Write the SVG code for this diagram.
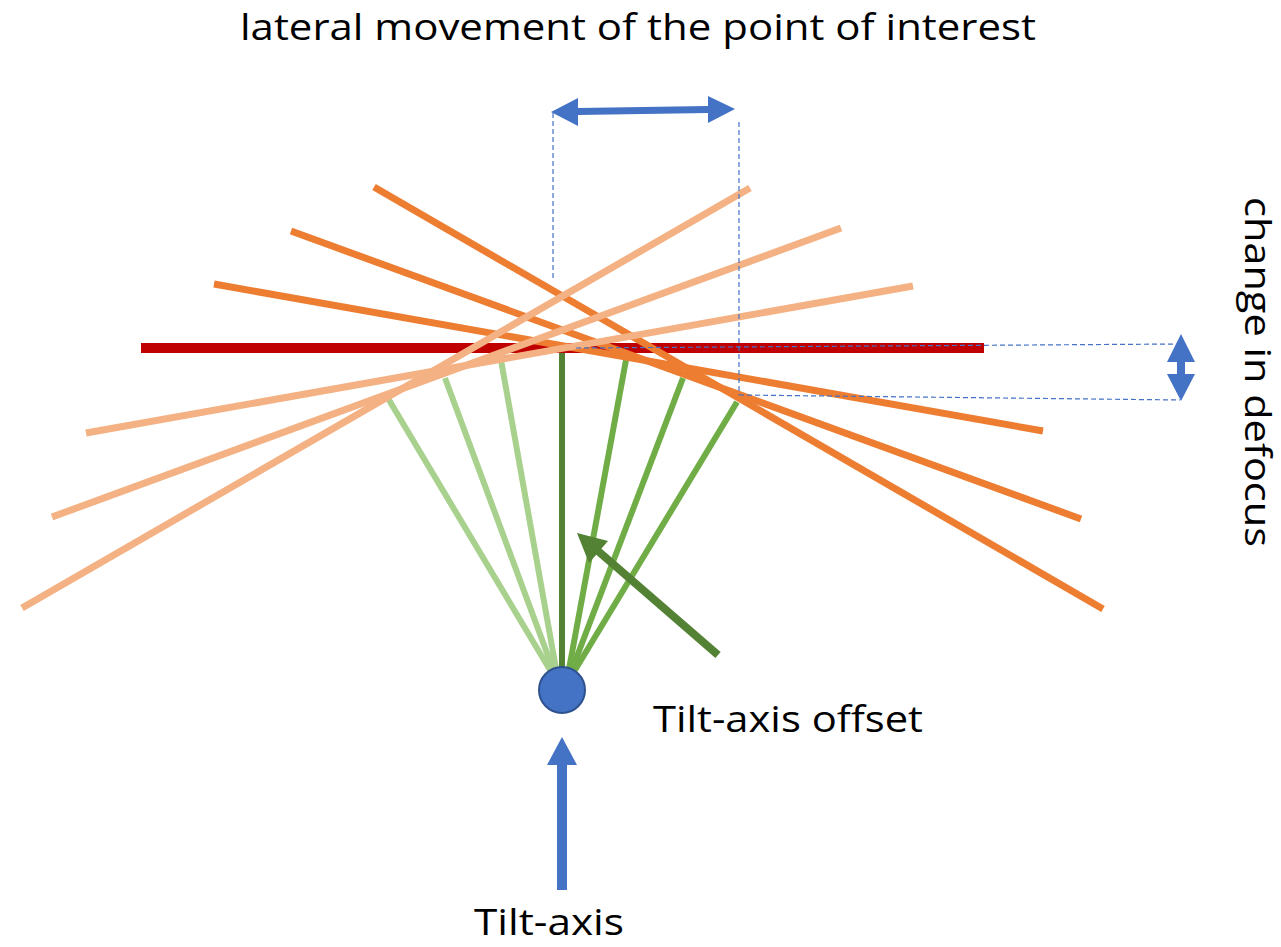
<svg xmlns="http://www.w3.org/2000/svg" width="1281" height="947" viewBox="0 0 1281 947">
<defs>
<style>
.t{font-family:"Open Sans","Liberation Sans",sans-serif;font-size:36px;fill:#000}
.lg{stroke:#A9D18E;stroke-width:6;fill:none}
.mg{stroke:#70AD47;stroke-width:6;fill:none}
.dg{stroke:#548235;stroke-width:6;fill:none}
.or{stroke:#ED7D31;stroke-width:7;fill:none}
.lo{stroke:#F4B183;stroke-width:7;fill:none}
.dash{stroke:#4472C4;stroke-width:1.2;stroke-dasharray:5,3;fill:none}
.blue{fill:#4472C4}
</style>
</defs>
<rect width="1281" height="947" fill="#fff"/>
<g id="connectors">
<g id="green-fan">
<line class="lg" x1="556" y1="680" x2="389" y2="400"/>
<line class="lg" x1="557" y1="680" x2="445" y2="378"/>
<line class="lg" x1="558" y1="680" x2="501" y2="360"/>
<line class="mg" x1="567" y1="680" x2="626" y2="360"/>
<line class="mg" x1="568" y1="680" x2="683" y2="378"/>
<line class="mg" x1="569" y1="680" x2="737" y2="402"/>
<line class="dg" x1="562" y1="680" x2="562" y2="352"/>
</g>
<line id="red-plane" x1="141" y1="348" x2="984" y2="348" stroke="#C00000" stroke-width="10"/>
<g id="orange-dark">
<line class="or" x1="374" y1="187" x2="1103" y2="609"/>
<line class="or" x1="291" y1="231" x2="1081" y2="519"/>
<line class="or" x1="214" y1="284" x2="1043" y2="431"/>
</g>
<g id="orange-light">
<line class="lo" x1="22" y1="608" x2="750" y2="188"/>
<line class="lo" x1="52" y1="517" x2="841" y2="228"/>
<line class="lo" x1="86" y1="433" x2="913" y2="286"/>
</g>
<g id="guides">
<line class="dash" x1="553" y1="113" x2="553" y2="278"/>
<line class="dash" x1="739" y1="122" x2="739" y2="395"/>
<line class="dash" x1="739" y1="395" x2="1180" y2="400"/>
<line class="dash" x1="576" y1="348" x2="1180" y2="344"/>
</g>
<g id="lateral-arrow">
<polygon class="blue" points="551,112 578,98 578,108 708,106 708,96 735,109 708,123 708,113 578,115 578,126"/>
</g>
<g id="defocus-arrow">
<polygon class="blue" points="1181,334 1195,362 1185,362 1185,374 1195,374 1181,401 1167,374 1177,374 1177,362 1167,362"/>
</g>
<g id="offset-arrow">
<line x1="718" y1="655" x2="598" y2="551" stroke="#548235" stroke-width="8"/>
<polygon points="577,533 608,541 589,563" fill="#548235"/>
</g>
<g id="tilt-arrow">
<polygon class="blue" points="562,737 577,765 567,765 567,890 557,890 557,765 547,765"/>
</g>
</g>
<g id="pivot">
<circle cx="562" cy="690" r="23" fill="#4472C4" stroke="#2F528F" stroke-width="2"/>
</g>
<g id="labels">
<text class="t" x="638" y="40" text-anchor="middle" textLength="796" lengthAdjust="spacingAndGlyphs">lateral movement of the point of interest</text>
<text class="t" transform="translate(1245,372) rotate(90)" text-anchor="middle" textLength="350" lengthAdjust="spacingAndGlyphs">change in defocus</text>
<text class="t" x="653" y="732" textLength="270" lengthAdjust="spacingAndGlyphs">Tilt-axis offset</text>
<text class="t" x="474" y="935" textLength="150" lengthAdjust="spacingAndGlyphs">Tilt-axis</text>
</g>
</svg>
